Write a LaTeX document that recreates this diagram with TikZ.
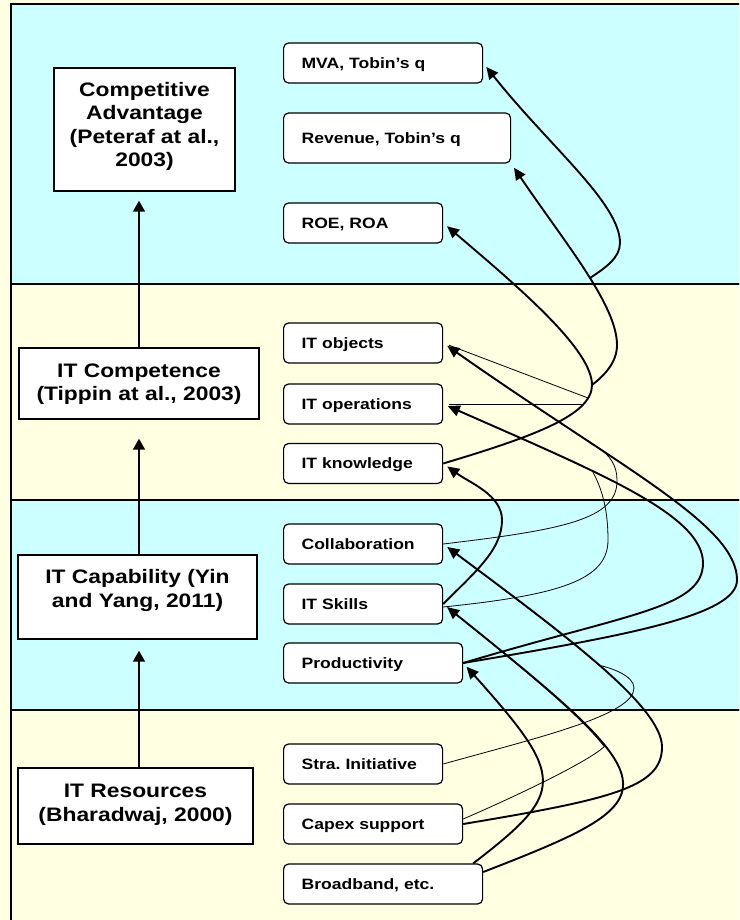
\documentclass[tikz,border=0pt]{standalone}
\usepackage{fontspec}
\setmainfont{Liberation Sans}[FakeStretch=1.17]
\usetikzlibrary{arrows.meta}
\definecolor{bandcyan}{HTML}{CCFFFF}
\definecolor{bandyellow}{HTML}{FFFFE1}
\frenchspacing
\begin{document}
\begin{tikzpicture}[x=1pt,y=-1pt,
  band/.style={draw=black, line width=2pt},
  lbox/.style={draw=black, fill=white, line width=1.4pt, inner sep=0pt},
  ltext/.style={font=\fontsize{19.5pt}{23.3pt}\selectfont\bfseries, align=center, inner sep=0pt},
  rbox/.style={draw=black, fill=white, line width=1.2pt, rounded corners=5pt, anchor=west,
    inner xsep=18pt, inner ysep=0pt, minimum height=40pt, text height=10.8pt, text depth=0pt,
    align=left, font=\fontsize{15pt}{18pt}\selectfont\bfseries},
  tipv/.tip={Triangle[length=11pt,width=12pt]},
  tipk/.tip={Triangle[length=12pt,width=11pt]},
  varrow/.style={line width=1.6pt, -tipv},
  thk/.style={line width=1.9pt, -tipk, shorten >=5pt},
  thn/.style={line width=0.8pt, shorten >=6pt},
]
\useasboundingbox (0,0) rectangle (739,920);
\clip (0,0) rectangle (739,920);
\fill[bandyellow] (0,0) rectangle (739,920);
\filldraw[band, fill=bandcyan] (11,4.5) rectangle (760,284);
\filldraw[band, fill=bandyellow] (11,284) rectangle (760,500);
\filldraw[band, fill=bandcyan] (11,500) rectangle (760,710);
\filldraw[band, fill=bandyellow] (11,710) rectangle (760,940);

% left column
\node[lbox, minimum width=181pt, minimum height=123pt] (ca) at (144.5,129.5) {};
\node[ltext] (catxt) at (144.5,126.6) {Competitive\\Advantage\\(Peteraf at al.,\\2003)};
\node[lbox, minimum width=240pt, minimum height=71pt] (itc) at (139,383.5) {};
\node[ltext] (itctxt) at (139,384.3) {IT Competence\\(Tippin at al., 2003)};
\node[lbox, minimum width=239pt, minimum height=84pt] (itcap) at (137.5,597) {};
\node[ltext] (itcaptxt) at (137.5,590.6) {IT Capability (Yin\\and Yang, 2011)};
\node[lbox, minimum width=235pt, minimum height=76pt] (itr) at (135.5,806) {};
\node[ltext] (itrtxt) at (135.5,804.9) {IT Resources\\(Bharadwaj, 2000)};

\draw[varrow, shorten >=9pt] (itc.north) -- (itc.north |- ca.south);
\draw[varrow, shorten >=19pt] (itc.south |- itcap.north) -- (itc.south);
\draw[varrow, shorten >=11pt] (itc.south |- itr.north) -- (itc.south |- itcap.south);

% right column
\node[rbox, text width=163pt] (mva) at (283,63) {MVA, Tobin’s q};
\node[rbox, text width=191pt, minimum height=50pt] (rev) at (283,138) {Revenue, Tobin’s q};
\node[rbox, text width=123pt] (roe) at (283,223) {ROE, ROA};
\node[rbox, text width=123pt] (ito) at (283,343) {IT objects};
\node[rbox, text width=123pt] (itop) at (283,404) {IT operations};
\node[rbox, text width=123pt] (itk) at (283,463.5) {IT knowledge};
\node[rbox, text width=123pt] (col) at (283,544) {Collaboration};
\node[rbox, text width=123pt] (skl) at (283,604) {IT Skills};
\node[rbox, text width=143pt] (prod) at (283,663) {Productivity};
\node[rbox, text width=123pt] (stra) at (283,764) {Stra. Initiative};
\node[rbox, text width=143pt] (cap) at (283,824) {Capex support};
\node[rbox, text width=163pt] (bb) at (283,884) {Broadband, etc.};

\coordinate (j1) at (592,385);
\coordinate (j2) at (590,278);
\coordinate (j3) at (588,398);
\coordinate (j4) at (584,404);

% thin connectors
\draw[thn] (j3) -- (ito.east);
\draw[thn] (j4) -- (itop.east);
\draw[thn] (stra.east) .. controls (540,737) and (634,715) .. (634,688)
  .. controls (634,676) and (612,668) .. (599.25,665.4)
  .. controls (560,631.25) and (505,590.5) .. (col.east);
\draw[thn] ([yshift=5pt]cap.east) .. controls (530,790) and (590,760) .. (604.3,746.6)
  .. controls (579,714.4) and (525.5,670.6) .. (skl.east);
\draw[thn] (col.east) .. controls (560,530) and (618,520) .. (617,480)
  .. controls (617,466) and (610,455) .. (598.1,447.8)
  .. controls (554.6,419) and (502.1,384.9) .. (ito.east);
\draw[thn] ([yshift=-3pt]skl.east) .. controls (560,595) and (608,580) .. (608,540)
  .. controls (608,505) and (600,485) .. (592.4,471.2)
  .. controls (551.4,451.4) and (500.5,429.5) .. (itop.east);

% thick connectors
\draw[thk] ([xshift=-10pt]bb.north east) .. controls (566,792) and (566,778) .. (prod.east);
\draw[thk] ([yshift=12pt]bb.east) .. controls (674,798) and (674,789) .. (skl.east);
\draw[thk] (cap.east) .. controls (613,799) and (662,787) .. (662,747)
  .. controls (662,707) and (568,637) .. (col.east);
\draw[thk] (prod.east) .. controls (630,613) and (703,608) .. (703,563)
  .. controls (703,515) and (600,473) .. (itop.east);
\draw[thk] (prod.east) .. controls (630,635) and (737,615) .. (737,580)
  .. controls (737,525) and (624,470) .. (ito.east);
\draw[thk] (skl.east) .. controls (475,572) and (502,550) .. (502,520)
  .. controls (502,495) and (470,483) .. (itk.east);
\draw[thk] (itk.east) .. controls (535,436) and (592,415) .. (j1)
  .. controls (592,350) and (522,290) .. (roe.east);
\draw[thk] (j1) .. controls (605,375) and (617,362) .. (617,345)
  .. controls (617,305) and (565,243) .. (rev.south east);
\draw[thk] (j2) .. controls (605,268) and (620,258) .. (620,243)
  .. controls (620,203) and (549,146) .. (mva.east);
\end{tikzpicture}
\end{document}
